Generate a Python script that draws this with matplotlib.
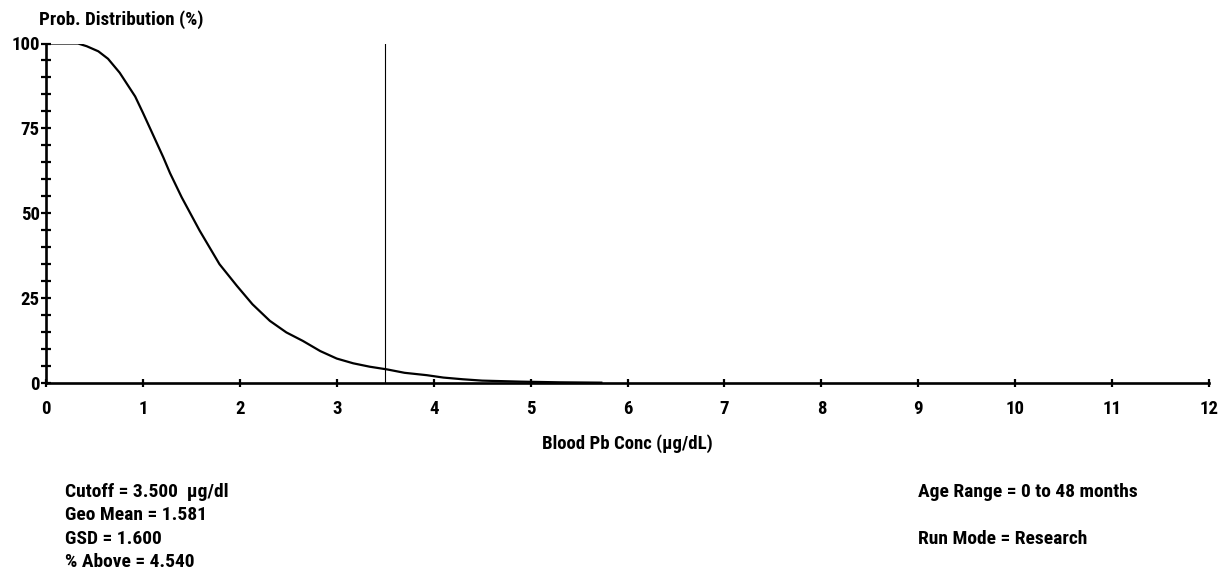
import matplotlib
matplotlib.use("Agg")
import matplotlib.pyplot as plt
from matplotlib import font_manager
from matplotlib.ticker import MultipleLocator

# ---- data ----
conc = [0, 0.33, 0.42, 0.54, 0.64, 0.76, 0.92, 1.0, 1.09, 1.21, 1.28, 1.40, 1.585,
        1.79, 1.97, 2.13, 2.31, 2.48, 2.65, 2.83, 3.0, 3.17, 3.34, 3.52, 3.7,
        3.93, 4.1, 4.3, 4.5, 4.9, 5.3, 5.73]
prob = [100, 100, 99.2, 97.7, 95.5, 91.4, 84.4, 79.6, 74.0, 66.5, 61.8, 54.7, 44.9,
        35.0, 28.6, 23.2, 18.3, 14.9, 12.4, 9.4, 7.2, 5.8, 4.8, 4.0, 3.0,
        2.3, 1.6, 1.1, 0.7, 0.4, 0.2, 0.1]
cutoff = 3.5
x_ticks = list(range(0, 13))
y_ticks = [0, 25, 50, 75, 100]
info_left = ["Cutoff = 3.500  µg/dl", "Geo Mean = 1.581", "GSD = 1.600", "% Above = 4.540"]
info_right = ["Age Range = 0 to 48 months", "Run Mode = Research"]

# ---- font choice ----
names = {f.name for f in font_manager.fontManager.ttflist}
fam = None
for cand in ["Liberation Sans Narrow", "Roboto Condensed", "Open Sans Condensed"]:
    if cand in names:
        fam = cand
        break
if fam is None:
    fam = "Liberation Sans"
plt.rcParams['font.family'] = [fam, 'DejaVu Sans']
plt.rcParams['font.weight'] = 'bold'
FS = 14

W, H = 1227, 575
fig = plt.figure(figsize=(W / 100, H / 100), dpi=100)
x0, x1, y0, y1 = 46, 1209, 383, 43.5
ax = fig.add_axes([x0 / W, 1 - y0 / H, (x1 - x0) / W, (y0 - y1) / H])

ax.plot(conc, prob, color='black', lw=1.6, solid_joinstyle='round')
ax.plot([cutoff, cutoff], [0, 100], color='black', lw=0.8)

ax.set_xlim(0, 12)
ax.set_ylim(0, 100)
for s in ['top', 'right']:
    ax.spines[s].set_visible(False)
for s in ['left', 'bottom']:
    ax.spines[s].set_linewidth(1.9)
    ax.spines[s].set_zorder(3)
ax.set_xticks(x_ticks)
ax.set_yticks(y_ticks)
ax.yaxis.set_minor_locator(MultipleLocator(5))
ax.tick_params(axis='x', direction='inout', length=6, width=1.6, pad=9, labelsize=FS - 0.5)
ax.tick_params(axis='y', which='both', direction='inout', length=7, width=1.6, pad=1, labelsize=FS - 0.5)
ax.tick_params(axis='y', which='minor', labelleft=False)
ax.patch.set_visible(False)

fig.text(39 / W, 1 - 20 / H, "Prob. Distribution (%)", fontsize=FS - 0.3, ha='left', va='center')
fig.text(627 / W, 1 - 444 / H, "Blood Pb Conc (µg/dL)", fontsize=FS - 0.5, ha='center', va='center')

ys = [492, 515, 539, 562]
for t, yy in zip(info_left, ys):
    fig.text(65 / W, 1 - yy / H, t, fontsize=FS, ha='left', va='center')
for t, yy in zip(info_right, [492, 539]):
    fig.text(918 / W, 1 - yy / H, t, fontsize=FS, ha='left', va='center')

fig.savefig("out.png", dpi=100)
